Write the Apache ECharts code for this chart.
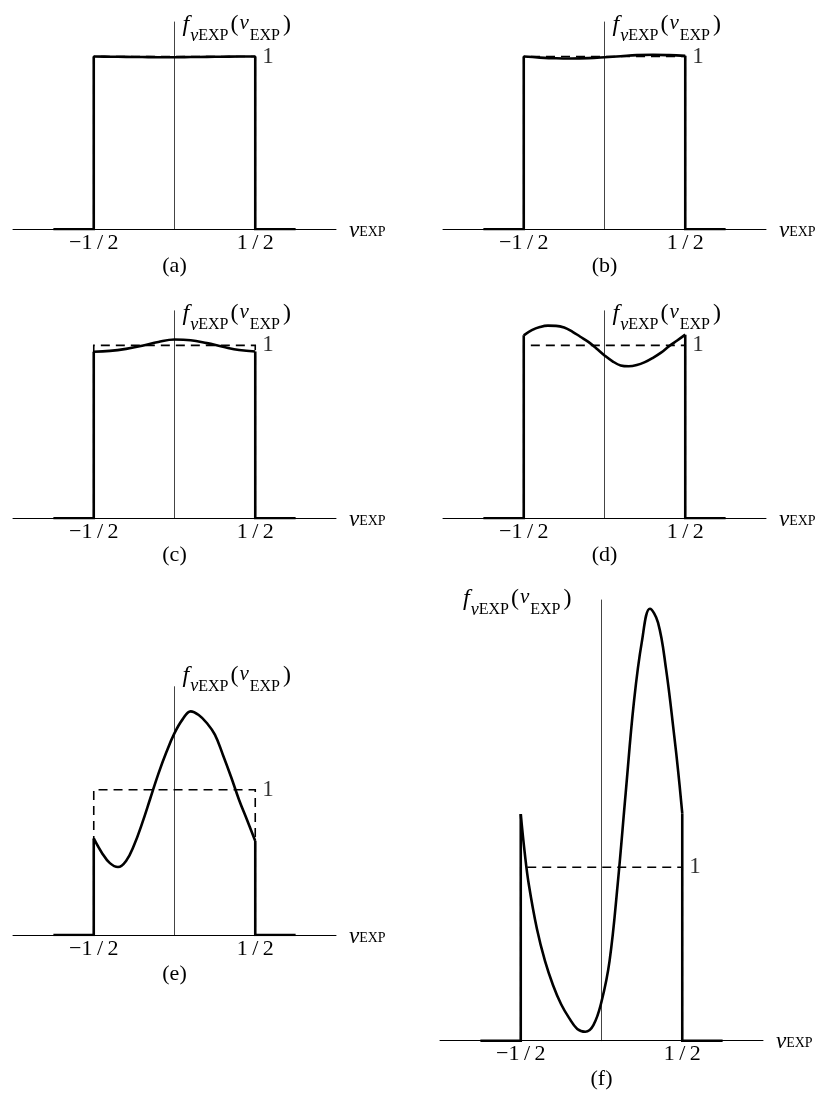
<!DOCTYPE html>
<html><head><meta charset="utf-8">
<script src="https://cdn.jsdelivr.net/npm/echarts@6/dist/echarts.min.js"></script>
<style>html,body{margin:0;padding:0;background:#fff}#c{width:822px;height:1095px}</style>
</head><body><div id="c"></div>
<script>
// ---------- data ----------
const panelCaptions = ['(a)', '(b)', '(c)', '(d)', '(e)', '(f)'];
const xTickValues = [-0.5, 0.5];
const xTickLabels = ['\u22121\u2009/\u20092', '1\u2009/\u20092'];
const uniformLevel = 1;
const uniformSupport = [-0.5, 0.5];
const baselineExtent = [-0.75, 0.75];
const xRange = [-1, 1];
const yMaxByPanel = [1.2, 1.2, 1.2, 1.2, 1.71, 2.54];

const curveA_x = [-0.5, -0.4, -0.3, -0.2, -0.1, 0, 0.1, 0.2, 0.3, 0.4, 0.5];
const curveA_y = [1.0, 0.999, 0.998, 0.997, 0.996, 0.996, 0.997, 0.998, 0.999, 1.0, 1.0];

const curveB_x = [-0.5, -0.4, -0.3, -0.2, -0.1, 0, 0.1, 0.2, 0.3, 0.4, 0.5];
const curveB_y = [1.0, 0.994, 0.99, 0.989, 0.991, 0.996, 1.002, 1.008, 1.01, 1.008, 1.004];

const curveC_x = [-0.5, -0.4, -0.3, -0.2, -0.1, 0, 0.1, 0.2, 0.3, 0.4, 0.5];
const curveC_y = [0.963, 0.968, 0.98, 0.998, 1.02, 1.034, 1.03, 1.013, 0.992, 0.973, 0.965];

const curveD_x = [-0.5, -0.45, -0.4, -0.35, -0.3, -0.25, -0.2, -0.15, -0.1, -0.05, 0, 0.05, 0.1, 0.15, 0.2, 0.25, 0.3, 0.35, 0.4, 0.45, 0.5];
const curveD_y = [1.058, 1.088, 1.106, 1.114, 1.113, 1.103, 1.08, 1.05, 1.02, 0.982, 0.942, 0.908, 0.884, 0.879, 0.886, 0.903, 0.928, 0.958, 0.995, 1.028, 1.062];

const curveE_x = [-0.5, -0.45, -0.4, -0.35, -0.3, -0.25, -0.2, -0.15, -0.1, -0.05, 0, 0.05, 0.1, 0.15, 0.2, 0.25, 0.3, 0.35, 0.4, 0.45, 0.5];
const curveE_y = [0.665, 0.567, 0.495, 0.468, 0.51, 0.62, 0.77, 0.94, 1.11, 1.26, 1.39, 1.485, 1.54, 1.515, 1.46, 1.38, 1.24, 1.09, 0.93, 0.79, 0.648];

const curveF_x = [-0.5, -0.475, -0.45, -0.4, -0.35, -0.3, -0.25, -0.2, -0.15, -0.1, -0.05, 0, 0.05, 0.1, 0.15, 0.2, 0.25, 0.3, 0.35, 0.4, 0.45, 0.475, 0.5];
const curveF_y = [1.306, 1.08, 0.9, 0.645, 0.46, 0.32, 0.21, 0.13, 0.068, 0.052, 0.09, 0.225, 0.46, 0.9, 1.43, 1.945, 2.3, 2.49, 2.41, 2.14, 1.76, 1.55, 1.311];

const curvesX = [curveA_x, curveB_x, curveC_x, curveD_x, curveE_x, curveF_x];
const curvesY = [curveA_y, curveB_y, curveC_y, curveD_y, curveE_y, curveF_y];

// ---------- layout / style ----------
const FONT = 'Liberation Serif';
const layouts = [
  {left: 13,  top: 22,    height: 207.3, side: 'right', gap: 0},
  {left: 443, top: 22,    height: 207.3, side: 'right', gap: 0},
  {left: 13,  top: 310.8, height: 207.5, side: 'right', gap: 0},
  {left: 443, top: 310.8, height: 207.5, side: 'right', gap: 0},
  {left: 13,  top: 686.7, height: 248.3, side: 'right', gap: 14},
  {left: 440, top: 600,   height: 440.7, side: 'left',  gap: 0}
];
const captionGaps = [26, 26, 26, 26, 28, 28];
const GRID_W = 323;

const yNameRich = {
  f:   {fontFamily: FONT, fontStyle: 'italic', fontSize: 24, lineHeight: 26, verticalAlign: 'top', color: '#000'},
  sn:  {fontFamily: FONT, fontStyle: 'italic', fontSize: 18, lineHeight: 18, verticalAlign: 'top', padding: [14, 0, 0, 1], color: '#000'},
  se:  {fontFamily: FONT, fontSize: 16, lineHeight: 16, verticalAlign: 'top', padding: [15, 0, 0, 0], color: '#000'},
  p:   {fontFamily: FONT, fontSize: 24, lineHeight: 26, verticalAlign: 'top', padding: [0, 0, 0, 2], color: '#000'},
  n:   {fontFamily: FONT, fontStyle: 'italic', fontSize: 21, lineHeight: 26, verticalAlign: 'top', padding: [0, 1, 0, 1], color: '#000'},
  se2: {fontFamily: FONT, fontSize: 16, lineHeight: 16, verticalAlign: 'top', padding: [15, 1, 0, 0], color: '#000'}
};
const yName = '{f|f}{sn|\u03bd}{se|EXP}{p|(}{n|\u03bd}{se2|EXP}{p|)}';
const xNameRich = {
  n: {fontFamily: FONT, fontStyle: 'italic', fontSize: 23, lineHeight: 24, verticalAlign: 'top', color: '#000'},
  e: {fontFamily: FONT, fontSize: 14, lineHeight: 14, verticalAlign: 'top', padding: [6, 0, 0, 0], color: '#000'}
};
const xName = '{n|\u03bd}{e|EXP}';

const grids = [], xAxes = [], yAxes = [], series = [];
layouts.forEach((L, i) => {
  grids.push({left: L.left, top: L.top, width: GRID_W, height: L.height});
  xAxes.push({
    gridIndex: i, type: 'value', min: xRange[0], max: xRange[1], interval: 0.5,
    name: xName, nameLocation: 'end', nameGap: 13,
    nameTextStyle: {rich: xNameRich, padding: [4, 0, 0, 0]},
    axisLine: {show: true, onZero: false, lineStyle: {color: '#000', width: 1}},
    axisTick: {show: false}, splitLine: {show: false},
    axisLabel: {
      margin: 3, fontFamily: FONT, fontSize: 22, color: '#000',
      showMinLabel: true, showMaxLabel: true,
      formatter: v => { const k = xTickValues.indexOf(v); return k >= 0 ? xTickLabels[k] : ''; }
    }
  });
  xAxes.push({
    gridIndex: i, type: 'value', min: xRange[0], max: xRange[1], position: 'bottom',
    name: panelCaptions[i], nameLocation: 'middle', nameGap: captionGaps[i],
    nameTextStyle: {fontFamily: FONT, fontSize: 22, color: '#000'},
    axisLine: {show: false, onZero: false}, axisTick: {show: false},
    axisLabel: {show: false}, splitLine: {show: false}
  });
  const right = L.side === 'right';
  yAxes.push({
    gridIndex: i, type: 'value', min: 0, max: yMaxByPanel[i],
    name: yName, nameLocation: 'end', nameGap: L.gap,
    nameTextStyle: {
      rich: yNameRich, align: right ? 'left' : 'right', verticalAlign: 'middle',
      padding: right ? [8, 0, 0, 8] : [0, 30, 0, 0]
    },
    axisLine: {show: true, onZero: true, onZeroAxisIndex: 2 * i, lineStyle: {color: '#444', width: 1}},
    axisTick: {show: false}, axisLabel: {show: false}, splitLine: {show: false}
  });

  const cx = curvesX[i], cy = curvesY[i];
  const curve = cx.map((x, k) => [x, cy[k]]);
  const common = {type: 'line', xAxisIndex: 2 * i, yAxisIndex: i, symbol: 'none', silent: true, animation: false};
  // uniform reference (dashed)
  series.push(Object.assign({}, common, {
    data: [[uniformSupport[0], 0], [uniformSupport[0], uniformLevel], [uniformSupport[1], uniformLevel], [uniformSupport[1], 0]],
    lineStyle: {color: '#000', width: 1.6, type: [9, 6], join: 'miter'}, z: 2
  }));
  // left frame
  series.push(Object.assign({}, common, {
    data: [[baselineExtent[0], 0], [uniformSupport[0], 0], [uniformSupport[0], cy[0]]],
    lineStyle: {color: '#000', width: 2.6, join: 'miter', cap: 'butt'}, z: 3
  }));
  // right frame
  series.push(Object.assign({}, common, {
    data: [[uniformSupport[1], cy[cy.length - 1]], [uniformSupport[1], 0], [baselineExtent[1], 0]],
    lineStyle: {color: '#000', width: 2.6, join: 'miter', cap: 'butt'}, z: 3
  }));
  // density curve
  series.push(Object.assign({}, common, {
    data: curve, smooth: 0.4,
    lineStyle: {color: '#000', width: 2.6, join: 'round'}, z: 3
  }));
  // "1" level label
  series.push({
    type: 'scatter', xAxisIndex: 2 * i, yAxisIndex: i, silent: true, animation: false,
    symbolSize: 0, data: [[uniformSupport[1], uniformLevel]],
    label: {show: true, position: 'right', distance: 7, formatter: String(uniformLevel),
            fontFamily: FONT, fontSize: 23, color: '#000'}
  });
});

const chart = echarts.init(document.getElementById('c'), null, {renderer: 'canvas'});
chart.setOption({
  backgroundColor: '#fff',
  animation: false,
  grid: grids, xAxis: xAxes, yAxis: yAxes, series: series
});
</script></body></html>
